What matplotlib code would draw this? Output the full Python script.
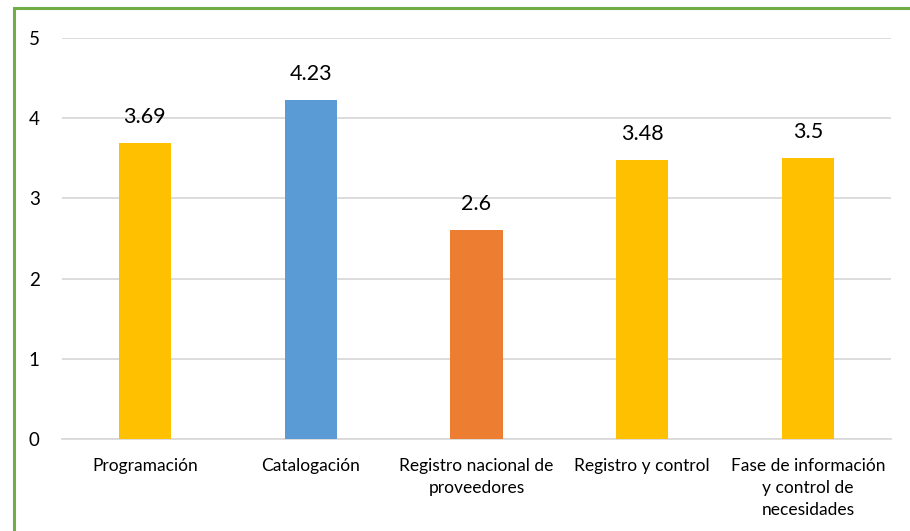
import matplotlib
matplotlib.use("Agg")
import matplotlib.pyplot as plt
from matplotlib.patches import Rectangle

categories = [
    "Programación",
    "Catalogación",
    "Registro nacional de\nproveedores",
    "Registro y control",
    "Fase de información\ny control de\nnecesidades",
]
values = [3.69, 4.23, 2.6, 3.48, 3.5]
colors = ["#FFC000", "#5B9BD5", "#ED7D31", "#FFC000", "#FFC000"]

plt.rcParams["font.family"] = ["Lato", "DejaVu Sans"]

fig = plt.figure(figsize=(9.1, 5.31), dpi=100)
ax = fig.add_axes([0.0681, 0.1733, 0.9109, 0.7551])

x = range(len(categories))
bars = ax.bar(x, values, width=0.315, color=colors, zorder=3)
for b, v in zip(bars, values):
    ax.text(b.get_x() + b.get_width() / 2, v + 0.2, f"{v:g}",
            ha="center", va="bottom", fontsize=15.5, color="#000000")

ax.set_xlim(-0.5, len(categories) - 0.5)
ax.set_ylim(0, 5)
ax.set_yticks(range(0, 6))
ax.set_xticks(list(x))
ax.set_xticklabels(categories, fontsize=12.5, linespacing=1.45)
ax.tick_params(axis="y", length=0, pad=16, labelsize=13.5)
ax.tick_params(axis="x", length=0, pad=14)
ax.grid(axis="y", color="#D9D9D9", linewidth=1.3, zorder=0)
for side in ["top", "right", "left"]:
    ax.spines[side].set_visible(False)
ax.spines["bottom"].set_color("#D9D9D9")
ax.spines["bottom"].set_linewidth(1.3)

# green frame around the chart area
fig.patches.append(Rectangle((14 / 910, -0.1), 1.2, 1 - 8 / 531 + 0.1,
                             transform=fig.transFigure, fill=False,
                             edgecolor="#70AD47", linewidth=2.2))

fig.savefig("out.png", dpi=100)
